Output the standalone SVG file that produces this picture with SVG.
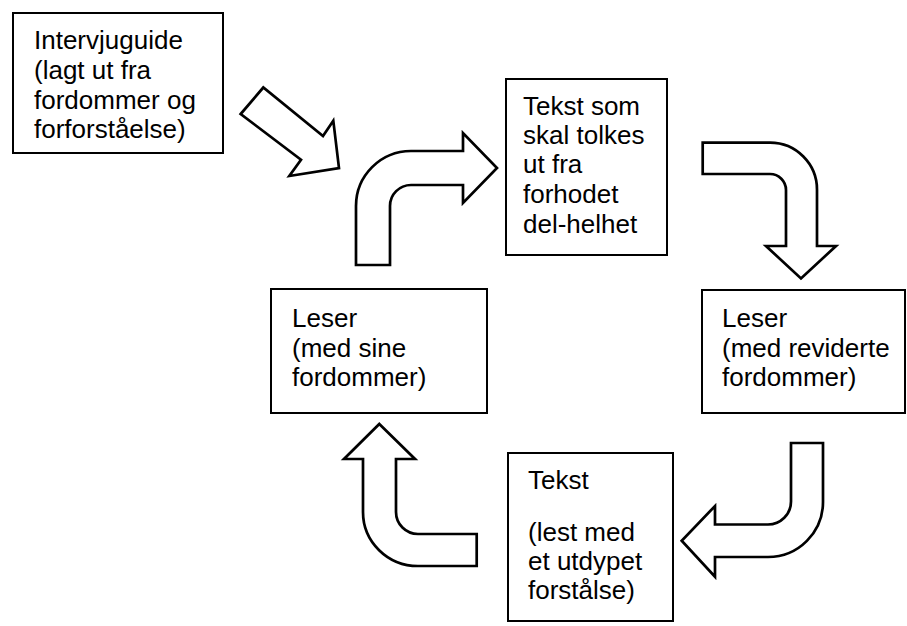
<svg xmlns="http://www.w3.org/2000/svg" width="907" height="626" viewBox="0 0 907 626">
<style>
.box{fill:#fff;stroke:#000;stroke-width:2}
.arrow{fill:#fff;stroke:#000;stroke-width:2.7;stroke-linejoin:miter}
.t{font-family:"Liberation Sans",Arial,sans-serif;font-size:26px;fill:#000}
</style>
<rect width="907" height="626" fill="#fff"/>
<g id="connectors">
<path id="arrowA" class="arrow" d="M240.7,114 L263.3,87.5 L323,136 L333.3,120.7 L339,168 L289.3,176 L301,159.7 Z"/>
<path id="arrowB" class="arrow" d="M356,265 L356,206 A55,55 0 0 1 411,151 L463,151 L463,133 L497,168 L463,203 L463,185 L411,185 A21,21 0 0 0 390,206 L390,265 Z"/>
<path id="arrowC" class="arrow" d="M702.7,142.7 L770,142.7 A47,47 0 0 1 817,190 L817,246 L836,246 L801,278.5 L766,246 L786,246 L786,190 A16,16 0 0 0 770,174 L702.7,174 Z"/>
<path id="arrowD" class="arrow" d="M791,443 L823,443 L823,502 A55,55 0 0 1 768,557 L715,557 L715,576.7 L681.7,540.7 L715,506 L715,524.5 L768,524.5 A23,23 0 0 0 791,501.5 Z"/>
<path id="arrowE" class="arrow" d="M379.3,424 L415,459 L396,459 L396,512 A22,22 0 0 0 418,534 L476.7,534 L476.7,566 L418,566 A55,54 0 0 1 363,512 L363,459 L344,459 Z"/>
</g>
<g id="intervjuguide">
<rect class="box" x="13" y="13" width="210" height="140"/>
<text class="t" x="34" y="49">Intervjuguide</text>
<text class="t" x="34" y="79">(lagt ut fra</text>
<text class="t" x="34" y="109">fordommer og</text>
<text class="t" x="34" y="138">forforståelse)</text>
</g>
<g id="tekst-som">
<rect class="box" x="506" y="79" width="161" height="176"/>
<text class="t" x="523" y="115">Tekst som</text>
<text class="t" x="523" y="144">skal tolkes</text>
<text class="t" x="523" y="173">ut fra</text>
<text class="t" x="523" y="203">forhodet</text>
<text class="t" x="523" y="233">del-helhet</text>
</g>
<g id="leser-sine">
<rect class="box" x="271" y="289" width="216" height="124"/>
<text class="t" x="292" y="327">Leser</text>
<text class="t" x="292" y="357">(med sine</text>
<text class="t" x="292" y="386">fordommer)</text>
</g>
<g id="leser-reviderte">
<rect class="box" x="702" y="290" width="203" height="123"/>
<text class="t" x="722" y="327">Leser</text>
<text class="t" x="722" y="357">(med reviderte</text>
<text class="t" x="722" y="386">fordommer)</text>
</g>
<g id="tekst-utdypet">
<rect class="box" x="508" y="453" width="165" height="168"/>
<text class="t" x="528" y="489">Tekst</text>
<text class="t" x="528" y="541">(lest med</text>
<text class="t" x="528" y="570">et utdypet</text>
<text class="t" x="528" y="599">forstålse)</text>
</g>
</svg>
